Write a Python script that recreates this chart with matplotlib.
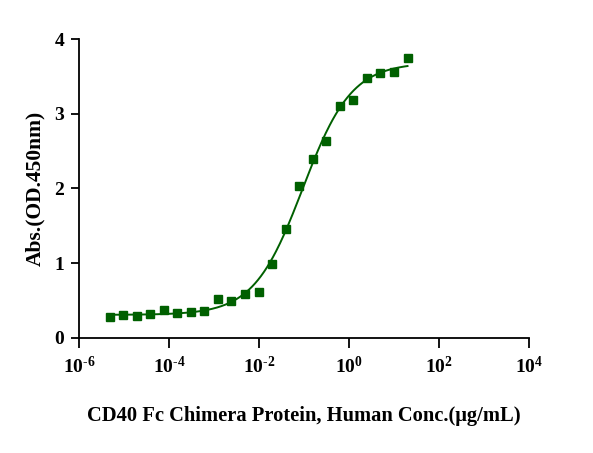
import numpy as np
import matplotlib
matplotlib.use("Agg")
import matplotlib.pyplot as plt

# 2-fold dilution series starting at 20 ug/mL
conc = 20.0 / 2.0 ** np.arange(22, -1, -1)
absorbance = [0.28, 0.31, 0.29, 0.32, 0.38, 0.33, 0.35, 0.36, 0.52, 0.49,
              0.59, 0.62, 0.99, 1.46, 2.03, 2.40, 2.63, 3.11, 3.19, 3.48,
              3.55, 3.56, 3.75]

x_ticks = [1e-6, 1e-4, 1e-2, 1e0, 1e2, 1e4]
x_tick_labels = [r"$10^{\text{-}6}$", r"$10^{\text{-}4}$", r"$10^{\text{-}2}$",
                 "$10^{0}$", "$10^{2}$", "$10^{4}$"]
y_ticks = [0, 1, 2, 3, 4]

green = "#006000"

plt.rcParams["font.family"] = "Liberation Serif"
plt.rcParams["font.weight"] = "bold"
plt.rcParams["mathtext.fontset"] = "custom"
plt.rcParams["mathtext.rm"] = "Liberation Serif:bold"
plt.rcParams["mathtext.it"] = "Liberation Serif:bold"
plt.rcParams["mathtext.bf"] = "Liberation Serif:bold"


def four_pl(x, bottom, top, ec50, hill):
    return bottom + (top - bottom) / (1 + (ec50 / x) ** hill)


# simple 4PL fit: grid over ec50 / hill, linear solve for bottom / top
y = np.array(absorbance)
best = None
for log_ec in np.linspace(-2, 0, 201):
    for hill in np.linspace(0.5, 1.6, 111):
        f = 1 / (1 + (10 ** log_ec / conc) ** hill)
        A = np.column_stack([1 - f, f])
        coef, res, _, _ = np.linalg.lstsq(A, y, rcond=None)
        err = np.sum((A @ coef - y) ** 2)
        if best is None or err < best[0]:
            best = (err, coef[0], coef[1], 10 ** log_ec, hill)
_, bottom, top, ec50, hill = best

x_fit = np.logspace(np.log10(conc[0]), np.log10(conc[-1]), 300)
y_fit = four_pl(x_fit, bottom, top, ec50, hill)

fig = plt.figure(figsize=(5.93, 4.53), dpi=100)
ax = fig.add_axes([0.1332, 0.2539, 0.7588, 0.6600])

ax.plot(x_fit, y_fit, color=green, linewidth=1.4)
ax.plot(conc, absorbance, "s", color=green, markersize=5.5)

ax.set_xscale("log")
ax.set_xlim(1e-6, 1e4)
ax.set_ylim(0, 4)
ax.set_xticks(x_ticks)
ax.set_xticklabels(x_tick_labels)
ax.xaxis.set_minor_locator(matplotlib.ticker.NullLocator())
ax.set_yticks(y_ticks)

ax.spines["top"].set_visible(False)
ax.spines["right"].set_visible(False)
ax.spines["left"].set_linewidth(1.3)
ax.spines["bottom"].set_linewidth(1.3)
ax.tick_params(axis="x", length=7, width=1.3, labelsize=14, pad=6)
ax.tick_params(axis="y", length=5.5, width=1.3, labelsize=14, pad=5)

ax.set_ylabel("Abs.(OD.450nm)", fontsize=15.5, fontweight="bold", labelpad=7)
ax.set_xlabel("CD40 Fc Chimera Protein, Human Conc.(μg/mL)", fontsize=14.8,
              fontweight="bold", labelpad=21)

fig.savefig("out.png", dpi=100)
